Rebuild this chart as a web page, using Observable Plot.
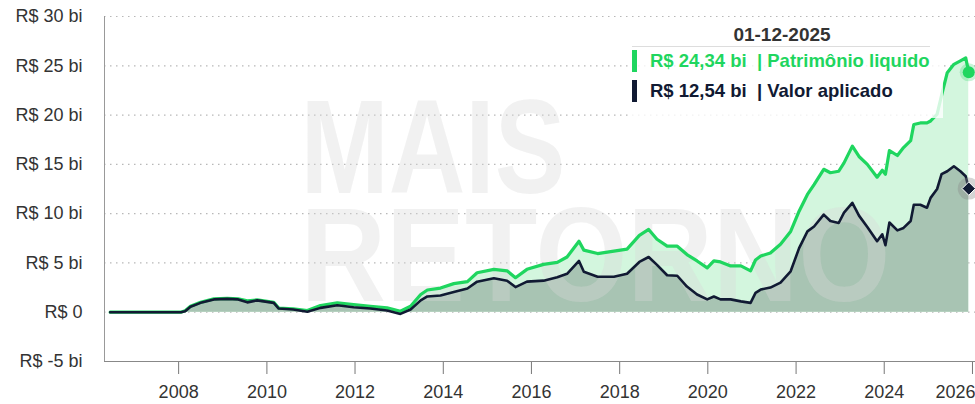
<!DOCTYPE html>
<html><head><meta charset="utf-8">
<script src="https://cdn.jsdelivr.net/npm/d3@7"></script>
<script src="https://cdn.jsdelivr.net/npm/@observablehq/plot@0.6"></script>
<style>
html,body{margin:0;padding:0;background:#fff;}
#wrap{position:relative;width:975px;height:404px;font-family:"Liberation Sans",Arial,sans-serif;}
#wrap svg{position:absolute;left:0;top:0;}
#tip{position:absolute;left:632px;top:18px;width:311px;height:100px;background:rgba(255,255,255,0.8);}
#tip .date{position:absolute;left:0;top:6px;width:300px;text-align:center;font-weight:bold;font-size:19px;color:#333;line-height:22px;}
#tip .sep{position:absolute;left:0;top:28px;width:298px;height:1px;background:#ddd;}
#tip .bar{position:absolute;left:0;width:5px;height:22px;}
#tip .row{position:absolute;left:18px;font-weight:bold;font-size:18.5px;line-height:22px;white-space:nowrap;}
</style></head><body><div id="wrap"></div><script>
// ---- data (R$ bilhões) ----
const datas = ["2006-06-13","2008-01-19","2008-02-24","2008-04-08","2008-07-01","2008-10-19","2009-02-06","2009-05-08","2009-07-23","2009-10-12",
"2010-02-27","2010-04-09","2010-08-07","2010-12-02","2011-03-21","2011-08-07","2011-12-20","2012-05-07","2012-09-22","2013-01-11",
"2013-04-05","2013-06-28","2013-08-22","2013-12-09","2014-03-29","2014-07-20","2014-10-08","2015-02-24","2015-06-13","2015-08-22",
"2015-11-25","2016-04-11","2016-08-02","2016-10-22","2017-01-29","2017-03-10","2017-07-02","2017-11-14","2018-03-03","2018-06-13",
"2018-08-29","2018-11-06","2019-01-29","2019-04-23","2019-07-12","2019-10-04","2019-12-27","2020-02-20","2020-04-15","2020-07-08",
"2020-10-01","2020-12-20","2021-01-30","2021-03-14","2021-06-02","2021-08-25","2021-11-17","2022-01-26","2022-04-05","2022-05-30",
"2022-08-18","2022-10-12","2022-12-20","2023-02-02","2023-04-12","2023-06-06","2023-08-14","2023-11-03","2023-12-16","2024-01-11",
"2024-02-13","2024-04-19","2024-06-09","2024-08-07","2024-09-02","2024-10-26","2024-12-20","2025-01-19","2025-03-14","2025-04-20",
"2025-06-06","2025-07-31","2025-09-23","2025-11-06","2025-12-01"];
const patrimonioLiquido = [0,0,0.15,0.6,1.0,1.35,1.4,1.35,1.15,1.25,
1.0,0.42,0.35,0.17,0.68,0.95,0.78,0.6,0.44,0.1,
0.6,1.8,2.25,2.45,2.9,3.1,4.0,4.35,4.2,3.5,
4.35,4.85,5.05,5.6,7.2,6.3,5.95,6.2,6.4,7.8,
8.4,7.4,6.7,6.7,5.85,5.2,4.5,5.2,5.1,4.7,
4.7,4.2,5.3,5.7,6.0,6.9,8.2,10.25,11.95,12.95,
14.5,14.15,14.3,15.15,16.85,15.8,15.0,13.7,14.4,14.0,
16.4,15.9,16.7,17.4,19.05,19.2,19.2,19.4,20.1,22.0,
24.3,25.15,25.5,25.8,24.34];
const valorAplicado = [0,0,0.1,0.55,0.95,1.3,1.35,1.3,1.0,1.2,
0.95,0.37,0.27,0.05,0.44,0.7,0.5,0.37,0.17,-0.17,
0.27,1.2,1.6,1.7,2.05,2.4,3.1,3.45,3.2,2.55,
3.1,3.2,3.55,3.9,5.2,4.1,3.6,3.6,3.9,5.1,
5.6,4.8,3.75,3.7,2.6,1.8,1.3,1.6,1.3,1.3,
1.1,0.95,1.96,2.3,2.5,3.0,4.15,6.5,8.2,8.7,
9.9,9.25,9.05,10.1,11.1,9.8,8.65,7.2,7.9,6.8,
9.1,8.3,8.55,9.25,10.9,10.9,10.6,11.6,12.5,14.0,
14.3,14.8,14.3,13.8,12.54];
const yTicks = [-5,0,5,10,15,20,25,30];
const xTicks = ["2008","2010","2012","2014","2016","2018","2020","2022","2024","2026"];
const xDomain = ["2006-04-27","2026-01-26"];
const nomes = ["Patrimônio liquido","Valor aplicado"];
const watermark = ["MAIS","RETORNO"];

const verde = "#1fd65f", azul = "#111a33";
const rows = datas.map((d,i)=>({data:new Date(d), pl:patrimonioLiquido[i], va:valorAplicado[i]}));
const last = rows[rows.length-1];
const fmtY = v => v === 0 ? "R$ 0" : `R$ ${v} bi`;
const fmtBi = v => "R$ " + v.toFixed(2).replace(".", ",") + " bi";

const chart = Plot.plot({
  width: 975, height: 404,
  marginLeft: 104, marginRight: 0, marginTop: 16, marginBottom: 43,
  style: {fontFamily: '"Liberation Sans", Arial, sans-serif', fontSize: "18px", color: "#333", background: "transparent", overflow: "visible"},
  x: {type: "utc", domain: xDomain.map(d=>new Date(d)), ticks: xTicks.map(d=>new Date(d)), tickFormat: d3.utcFormat("%Y"), tickSize: 13, tickPadding: 11, label: null},
  y: {domain: [-5, 30], ticks: yTicks, tickFormat: fmtY, tickSize: 0, tickPadding: 22, label: null},
  marks: [
    Plot.ruleY(yTicks.filter(v=>v>-5), {stroke: "#b8b8b8", strokeDasharray: "1.5 4.5", strokeWidth: 1.2}),
    Plot.areaY(rows, {x: "data", y: "pl", fill: "#d3f6de"}),
    Plot.areaY(rows, {x: "data", y: "va", fill: "#a8c4b3"}),
    Plot.text([watermark.join("\n")], {text: d=>d, frameAnchor: "top-left", dx: 196, dy: 284, textAnchor: "start", lineAnchor: "bottom", lineHeight: 0.805, fontSize: 133, fontWeight: 900, fill: "#d8d8d8", fillOpacity: 0.36}),
    Plot.lineY(rows, {x: "data", y: "pl", stroke: verde, strokeWidth: 3.2}),
    Plot.lineY(rows, {x: "data", y: "va", stroke: azul, strokeWidth: 2.6}),
    Plot.ruleX([new Date(xDomain[0])], {stroke: "#999"}),
    Plot.ruleY([-5], {stroke: "#888"}),
    Plot.dot([last], {x: "data", y: "pl", r: 9, fill: verde, fillOpacity: 0.25}),
    Plot.dot([last], {x: "data", y: "pl", r: 6, fill: verde}),
    Plot.dot([last], {x: "data", y: "va", r: 11, fill: "#888", fillOpacity: 0.35}),
    Plot.dot([last], {x: "data", y: "va", r: 6, symbol: "diamond2", fill: azul, stroke: "#fff", strokeWidth: 1})
  ]
});
const wrap = document.getElementById("wrap");
wrap.appendChild(chart);
const svg = d3.select(chart);
const lens = [265, 590];
svg.selectAll("tspan").each(function(){
  const i = watermark.indexOf(this.textContent);
  if (i >= 0) d3.select(this).attr("textLength", lens[i]).attr("lengthAdjust", "spacingAndGlyphs");
});
svg.selectAll('[aria-label="x-axis tick"] path, [aria-label="x-axis"] .tick line').attr("stroke", "#777");
// keep last year label inside the picture
svg.selectAll("text").filter(function(){return this.textContent === xTicks[xTicks.length-1];})
  .attr("text-anchor", "end").attr("dx", 3);

const tip = document.createElement("div");
tip.id = "tip";
tip.innerHTML = `<div class="date">${d3.utcFormat("%d-%m-%Y")(last.data)}</div><div class="sep"></div>
<div class="bar" style="top:32px;background:${verde}"></div><div class="row" style="top:32px;color:${verde}">${fmtBi(last.pl)}&nbsp; | ${nomes[0]}</div>
<div class="bar" style="top:62px;background:${azul}"></div><div class="row" style="top:62px;color:${azul}">${fmtBi(last.va)}&nbsp; | ${nomes[1]}</div>`;
wrap.appendChild(tip);
</script></body></html>
